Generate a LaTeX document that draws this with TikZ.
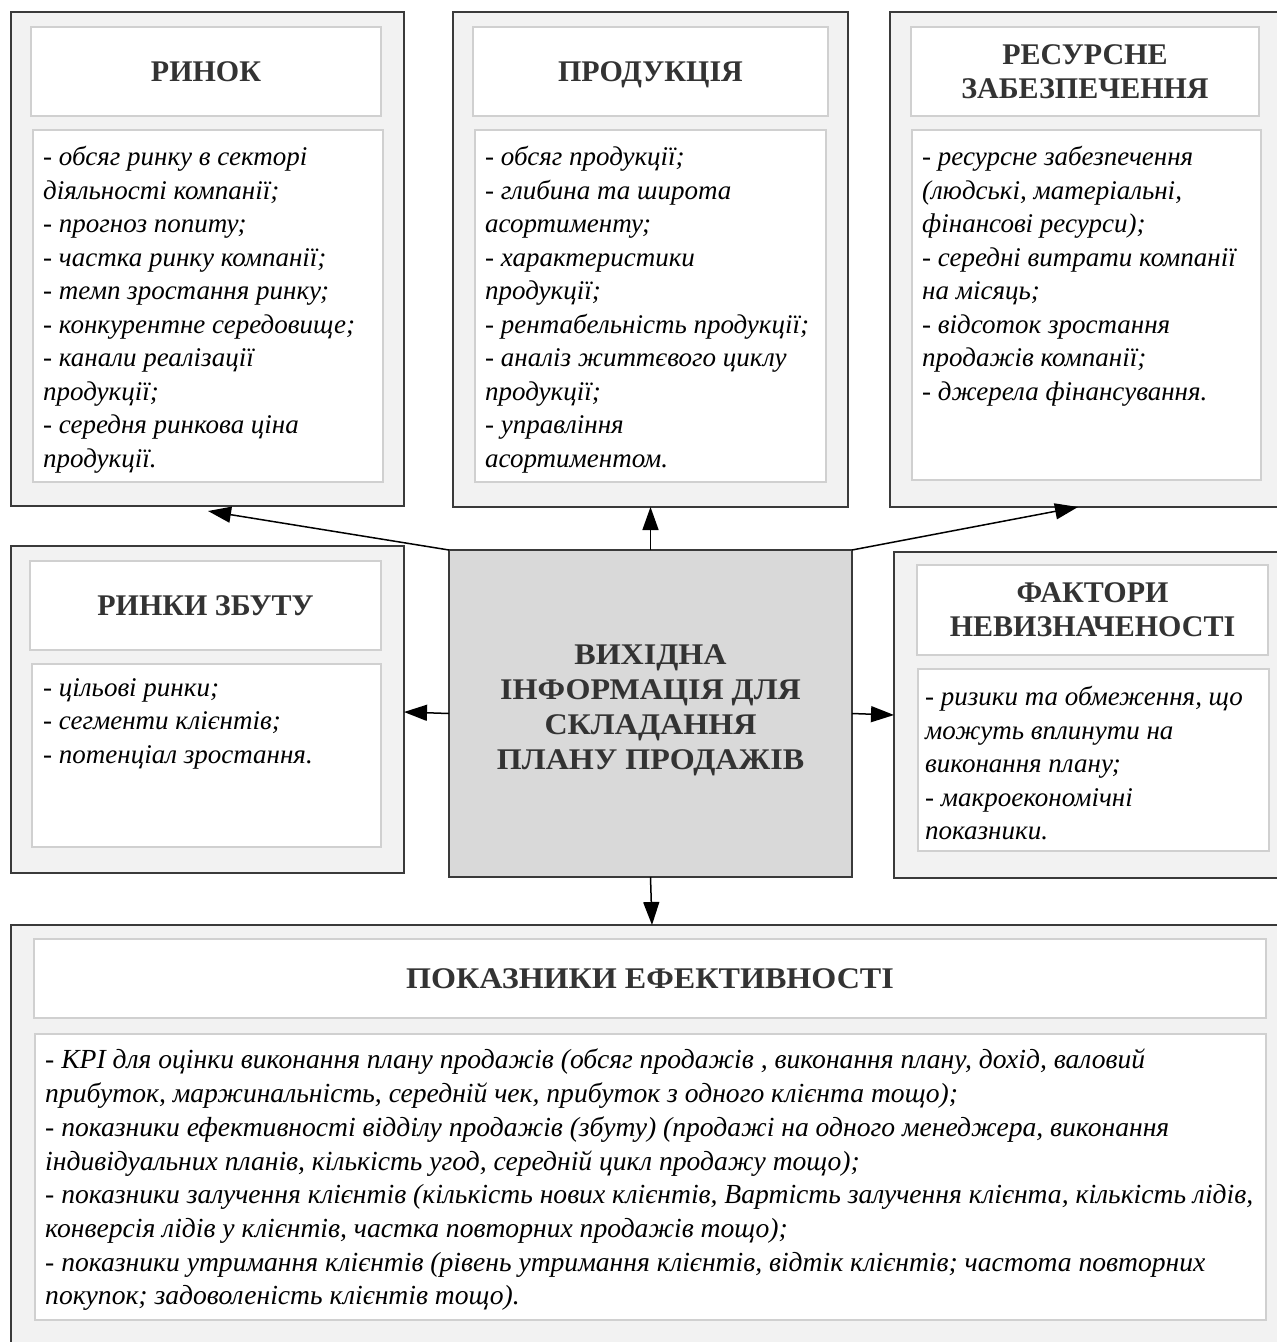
\documentclass[tikz,border=0pt]{standalone}
\usepackage{fontspec}
\setmainfont{Liberation Serif}
\newfontfamily\wideserif[FakeStretch=1.07]{Liberation Serif}
\usetikzlibrary{arrows.meta}
\definecolor{outerfill}{HTML}{F2F2F2}
\definecolor{outerdraw}{HTML}{3A3A3A}
\definecolor{innerdraw}{HTML}{D0D0D0}
\definecolor{centerfill}{HTML}{D9D9D9}
\definecolor{titletext}{HTML}{333333}
\begin{document}
\begin{tikzpicture}[x=1pt,y=-1pt,
  outerbox/.style={draw=outerdraw, fill=outerfill, line width=1.4pt, anchor=north west, inner sep=0pt, outer sep=0pt},
  innerbox/.style={draw=innerdraw, fill=white, line width=1.4pt, anchor=north west, inner sep=0pt, outer sep=0pt},
  centerbox/.style={draw=outerdraw, fill=centerfill, line width=1.4pt, anchor=north west, inner sep=0pt, outer sep=0pt},
  titletxt/.style={font=\fontsize{30}{34}\selectfont\bfseries, text=titletext, align=center, inner sep=0pt},
  onetitle/.style={titletxt, anchor=base},
  bodytxt/.style={font=\fontsize{27}{33.5}\selectfont\itshape, align=left, anchor=north west, inner sep=0pt, execute at begin node={\rule{0pt}{20pt}}},
  conn/.style={line width=1.5pt, -{Triangle[length=23pt,width=16pt]}}]
\path[use as bounding box, clip] (0,0) rectangle (1277,1342);
\fill[white] (0,0) rectangle (1277,1342);

% outer boxes
\node[outerbox, minimum width=393, minimum height=494] (rinok) at (11,12) {};
\node[outerbox, minimum width=395, minimum height=495] (prod) at (453,12) {};
\node[outerbox, minimum width=400, minimum height=495] (res) at (890,12) {};
\node[outerbox, minimum width=393, minimum height=327] (rz) at (11,546) {};
\node[centerbox, minimum width=403, minimum height=327] (center) at (449,550) {};
\node[outerbox, minimum width=400, minimum height=326] (fact) at (894,552) {};
\node[outerbox, minimum width=1290, minimum height=440] (pok) at (11,925) {};

% inner boxes
\node[innerbox, minimum width=350, minimum height=89] (rinokT) at (31,27) {};
\node[innerbox, minimum width=350, minimum height=352] (rinokC) at (33,130) {};
\node[innerbox, minimum width=355, minimum height=89] (prodT) at (473,27) {};
\node[innerbox, minimum width=351, minimum height=352] (prodC) at (475,130) {};
\node[innerbox, minimum width=348, minimum height=89] (resT) at (911,27) {};
\node[innerbox, minimum width=349, minimum height=350] (resC) at (912,130) {};
\node[innerbox, minimum width=351, minimum height=89] (rzT) at (30,561) {};
\node[innerbox, minimum width=349, minimum height=183] (rzC) at (32,664) {};
\node[innerbox, minimum width=351, minimum height=90] (factT) at (917,565) {};
\node[innerbox, minimum width=351, minimum height=182] (factC) at (918,669) {};
\node[innerbox, minimum width=1232, minimum height=79] (pokT) at (34,939) {};
\node[innerbox, minimum width=1231, minimum height=286] (pokC) at (35,1034) {};

% titles
\node[onetitle] (rinokTt) at ([yshift=-10pt]rinokT.center) {РИНОК};
\node[onetitle] (prodTt) at ([yshift=-10pt]prodT.center) {ПРОДУКЦІЯ};
\node[titletxt] (resTt) at (resT.center) {РЕСУРСНЕ\\ЗАБЕЗПЕЧЕННЯ};
\node[onetitle] (rzTt) at ([yshift=-10pt]rzT.center) {РИНКИ ЗБУТУ};
\node[titletxt] (factTt) at (factT.center) {ФАКТОРИ\\НЕВИЗНАЧЕНОСТІ};
\node[onetitle, font=\fontsize{30}{34}\selectfont\wideserif\bfseries] (pokTt) at ([yshift=-10pt]pokT.center) {ПОКАЗНИКИ ЕФЕКТИВНОСТІ};
\node[titletxt, font=\fontsize{30}{35}\selectfont\wideserif\bfseries] (centerTt) at ([yshift=3pt]center.center) {ВИХІДНА\\ІНФОРМАЦІЯ ДЛЯ\\СКЛАДАННЯ\\ПЛАНУ ПРОДАЖІВ};

% body texts
\node[bodytxt] (rinokB) at (43,146) {- обсяг ринку в секторі\\діяльності компанії;\\- прогноз попиту;\\- частка ринку компанії;\\- темп зростання ринку;\\- конкурентне середовище;\\- канали реалізації\\продукції;\\- середня ринкова ціна\\продукції.};
\node[bodytxt] (prodB) at (485,146) {- обсяг продукції;\\- глибина та широта\\асортименту;\\- характеристики\\продукції;\\- рентабельність продукції;\\- аналіз життєвого циклу\\продукції;\\- управління\\асортиментом.};
\node[bodytxt] (resB) at (922,146) {- ресурсне забезпечення\\(людські, матеріальні,\\фінансові ресурси);\\- середні витрати компанії\\на місяць;\\- відсоток зростання\\продажів компанії;\\- джерела фінансування.};
\node[bodytxt] (rzB) at (43,678) {- цільові ринки;\\- сегменти клієнтів;\\- потенціал зростання.};
\node[bodytxt] (factB) at (925,686) {- ризики та обмеження, що\\можуть вплинути на\\виконання плану;\\- макроекономічні\\показники.};
\node[bodytxt, font=\fontsize{27.6}{33.7}\selectfont\itshape] (pokB) at (45,1049) {- KPI для оцінки виконання плану продажів (обсяг продажів , виконання плану, дохід, валовий\\прибуток, маржинальність, середній чек, прибуток з одного клієнта тощо);\\- показники ефективності відділу продажів (збуту) (продажі на одного менеджера, виконання\\індивідуальних планів, кількість угод, середній цикл продажу тощо);\\- показники залучення клієнтів (кількість нових клієнтів, Вартість залучення клієнта, кількість лідів,\\конверсія лідів у клієнтів, частка повторних продажів тощо);\\- показники утримання клієнтів (рівень утримання клієнтів, відтік клієнтів; частота повторних\\покупок; задоволеність клієнтів тощо).};

% connectors
\coordinate (a1) at (208,511);
\coordinate (a3) at (1078,507);
\coordinate (a4) at (404,712);
\coordinate (a6) at (652,925);
\draw[conn] (center.north west) -- (a1);
\draw[conn] (center.north) -- (prod.south);
\draw[conn] (center.north east) -- (a3);
\draw[conn] (center.west) -- (a4);
\draw[conn] (center.east) -- (fact.west);
\draw[conn] (center.south) -- (a6);
\end{tikzpicture}
\end{document}
